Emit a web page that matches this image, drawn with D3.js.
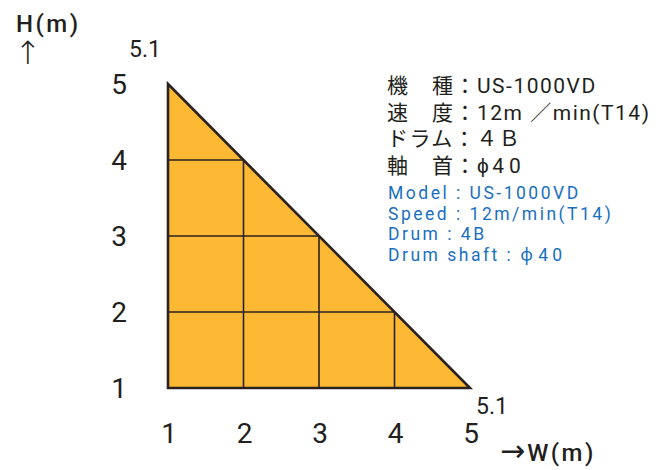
<!DOCTYPE html>
<html><head><meta charset="utf-8">
<script src="https://cdn.jsdelivr.net/npm/d3@7"></script>
<style>body{margin:0;background:#fff}</style>
</head><body>
<svg id="c" width="670" height="470"></svg>
<script>
const xTicks = [1, 2, 3, 4, 5];
const yTicks = [1, 2, 3, 4, 5];
// Boundary of the working range (W, H) in metres
const boundary = [[1, 1], [1, 5], [5, 1]];
// Grid cells: max height at each W grid line
const gridW = [2, 3, 4];
const gridHAtW = [4, 3, 2];
const gridH = [2, 3, 4];
const gridWAtH = [4, 3, 2];
const extremeLabels = ["5.1", "5.1"];
const specJa = ["機　種：US-1000VD", "速　度：12m ／min(T14)", "ドラム：４Ｂ", "軸　首：ϕ"];
const specEn = ["Model : US-1000VD", "Speed : 12m/min(T14)", "Drum : 4B", "Drum shaft : ϕ"];
const shaftSize = "40";

const svg = d3.select("#c");
const x = d3.scaleLinear().domain([1, 5]).range([168, 470]);
const y = d3.scaleLinear().domain([1, 5]).range([388, 84]);

svg.append("path")
  .attr("d", d3.line().x(d => x(d[0])).y(d => y(d[1]))(boundary) + "Z")
  .attr("fill", "#FDB933").attr("stroke", "none");

const g = svg.append("g").attr("stroke", "#2b2220").attr("stroke-width", 1.6);
gridW.forEach((w, i) => g.append("line").attr("x1", x(w)).attr("x2", x(w)).attr("y1", y(1)).attr("y2", y(gridHAtW[i])));
gridH.forEach((h, i) => g.append("line").attr("y1", y(h)).attr("y2", y(h)).attr("x1", x(1)).attr("x2", x(gridWAtH[i])));

svg.append("path")
  .attr("d", d3.line().x(d => x(d[0])).y(d => y(d[1]))(boundary) + "Z")
  .attr("fill", "none").attr("stroke", "#2b2220").attr("stroke-width", 2.6).attr("stroke-linejoin", "miter");

const font = "Roboto, 'Noto Sans', sans-serif";
svg.selectAll(".xt").data(xTicks).enter().append("text")
  .attr("x", d => x(d) + 1).attr("y", 443).attr("text-anchor", "middle")
  .attr("font-family", font).attr("font-size", 28).attr("fill", "#231f20").text(d => d);
svg.selectAll(".yt").data(yTicks).enter().append("text")
  .attr("x", 119).attr("y", d => y(d) + 10).attr("text-anchor", "middle")
  .attr("font-family", font).attr("font-size", 28).attr("fill", "#231f20").text(d => d);

svg.append("text").attr("x", 145).attr("y", 57).attr("text-anchor", "middle")
  .attr("font-family", font).attr("font-size", 23).attr("fill", "#231f20").text(extremeLabels[0]);
svg.append("text").attr("x", 492).attr("y", 414).attr("text-anchor", "middle")
  .attr("font-family", font).attr("font-size", 23).attr("fill", "#231f20").text(extremeLabels[1]);

svg.append("text").attr("x", 16).attr("y", 32).attr("font-family", font).attr("font-size", 24)
  .attr("font-weight", 500).attr("letter-spacing", 2.5).attr("fill", "#231f20").text("H(m)");
svg.append("text").attr("x", 28).attr("y", 64).attr("text-anchor", "middle").attr("font-family", "'DejaVu Sans', sans-serif").attr("font-size", 32)
  .attr("font-weight", 300).attr("fill", "#231f20").text("↑");
const wt = svg.append("text").attr("x", 500).attr("y", 461).attr("font-family", font).attr("font-size", 24)
  .attr("font-weight", 500).attr("letter-spacing", 2.5).attr("fill", "#231f20");
wt.append("tspan").attr("font-family", "'DejaVu Sans', sans-serif").attr("font-size", 30).attr("font-weight", 400).attr("letter-spacing", 0).text("→");
wt.append("tspan").attr("dx", 2).text("W(m)");

const ja = svg.selectAll(".ja").data(specJa).enter().append("text")
  .attr("x", 387).attr("y", (d, i) => 93 + i * 26.5)
  .attr("font-family", "Roboto, 'Noto Sans CJK JP', sans-serif").attr("font-size", 21).attr("letter-spacing", 1.5).attr("fill", "#231f20");
ja.append("tspan").text(d => d);
ja.filter((d, i) => i === 3).append("tspan").attr("dx", 2).attr("letter-spacing", 5).text(shaftSize);

const en = svg.selectAll(".en").data(specEn).enter().append("text")
  .attr("x", 388).attr("y", (d, i) => 199 + i * 20.7)
  .attr("font-family", font).attr("font-size", 17.5).attr("letter-spacing", 2.5).attr("fill", "#1a6fc0");
en.append("tspan").text(d => d);
en.filter((d, i) => i === 3).append("tspan").attr("dx", 3).attr("letter-spacing", 4).text(shaftSize);
</script>
</body></html>
